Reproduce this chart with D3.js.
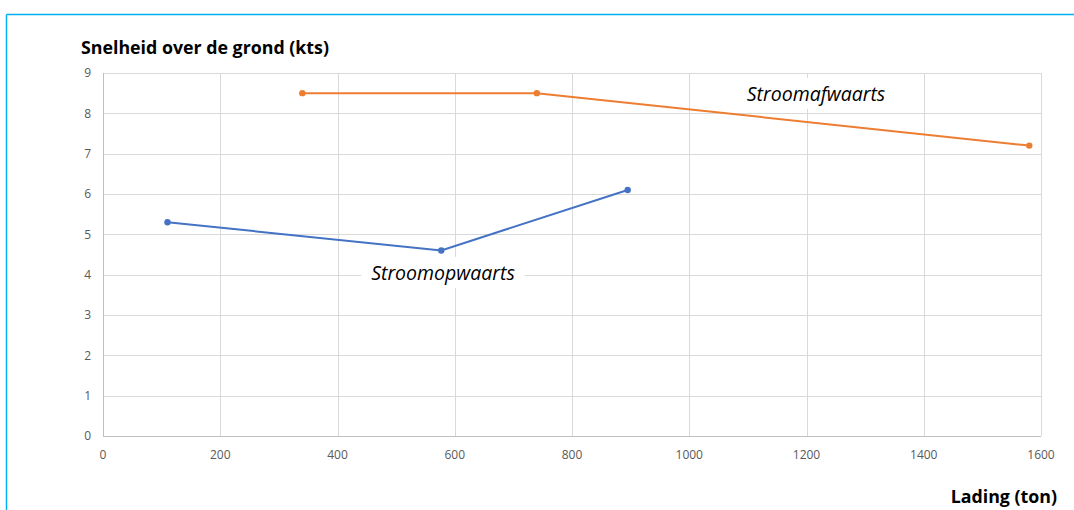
<!DOCTYPE html>
<html><head><meta charset="utf-8">
<script src="https://cdn.jsdelivr.net/npm/d3@7"></script>
<style>
html,body{margin:0;padding:0;background:#fff;}
svg{display:block;}
</style></head>
<body>
<svg id="c" width="1074" height="510"></svg>
<script>
const upLoad = [110, 577, 895];
const upSpeed = [5.3, 4.6, 6.1];
const downLoad = [340, 740, 1580];
const downSpeed = [8.5, 8.5, 7.2];
const xTicks = [0, 200, 400, 600, 800, 1000, 1200, 1400, 1600];
const yTicks = [0, 1, 2, 3, 4, 5, 6, 7, 8, 9];
const yTitle = "Snelheid over de grond (kts)";
const xTitle = "Lading (ton)";
const upName = "Stroomopwaarts";
const downName = "Stroomafwaarts";

const svg = d3.select("#c");
const font = "'Open Sans', 'Noto Sans', sans-serif";

// frame border
svg.append("line").attr("x1",6.5).attr("x2",1074).attr("y1",14.5).attr("y2",14.5).attr("stroke","#00b0f0").attr("stroke-width",1.5);
svg.append("line").attr("x1",6.5).attr("x2",6.5).attr("y1",14.5).attr("y2",510).attr("stroke","#00b0f0").attr("stroke-width",1.5);

const x = d3.scaleLinear().domain([0,1600]).range([103,1041]);
const y = d3.scaleLinear().domain([0,9]).range([436,73]);

// gridlines
svg.append("g").selectAll("line").data(yTicks).join("line")
  .attr("x1",x(0)).attr("x2",x(1600))
  .attr("y1",d=>Math.round(y(d))+0.5).attr("y2",d=>Math.round(y(d))+0.5)
  .attr("stroke",d=>d===0?"#bfbfbf":"#d9d9d9").attr("stroke-width",1);
svg.append("g").selectAll("line").data(xTicks).join("line")
  .attr("x1",d=>Math.round(x(d))+0.5).attr("x2",d=>Math.round(x(d))+0.5)
  .attr("y1",y(9)).attr("y2",y(0))
  .attr("stroke",d=>d===0?"#bfbfbf":"#d9d9d9").attr("stroke-width",1);

// tick labels
svg.append("g").selectAll("text").data(yTicks).join("text")
  .attr("x",x(0)-12).attr("y",d=>y(d)).attr("dy","0.35em")
  .attr("text-anchor","end").attr("font-family",font).attr("font-size",12).attr("fill","#595959")
  .text(d=>d);
svg.append("g").selectAll("text").data(xTicks).join("text")
  .attr("x",d=>x(d)).attr("y",y(0)+23)
  .attr("text-anchor","middle").attr("font-family",font).attr("font-size",12).attr("fill","#595959")
  .text(d=>d);

// titles
svg.append("text").attr("x",81).attr("y",54).attr("font-family",font).attr("font-weight","bold")
  .attr("font-size",17.8).attr("fill","#000").text(yTitle);
svg.append("text").attr("x",1057).attr("y",503).attr("text-anchor","end").attr("font-family",font).attr("font-weight","bold")
  .attr("font-size",17.8).attr("fill","#000").text(xTitle);

// series
const line = d3.line().x(d=>x(d[0])).y(d=>y(d[1]));
function series(xs, ys, color){
  const pts = xs.map((v,i)=>[v, ys[i]]);
  svg.append("path").datum(pts).attr("d",line).attr("fill","none").attr("stroke",color).attr("stroke-width",2);
  svg.append("g").selectAll("circle").data(pts).join("circle")
    .attr("cx",d=>x(d[0])).attr("cy",d=>y(d[1])).attr("r",3.2).attr("fill",color);
}

// labels with white boxes
function label(text, cx, cy){
  const g = svg.append("g");
  const t = g.append("text").attr("x",cx).attr("y",cy).attr("dy","0.35em").attr("text-anchor","middle")
    .attr("font-family",font).attr("font-style","italic").attr("font-size",19.5).attr("fill","#000").text(text);
  const b = t.node().getBBox();
  g.insert("rect","text").attr("x",b.x-10).attr("y",b.y-2).attr("width",b.width+20).attr("height",b.height+4).attr("fill","#fff");
}

series(upLoad, upSpeed, "#4472c4");
series(downLoad, downSpeed, "#ed7d31");
label(downName, 816, 94);
label(upName, 443, 273);
</script>
</body></html>
